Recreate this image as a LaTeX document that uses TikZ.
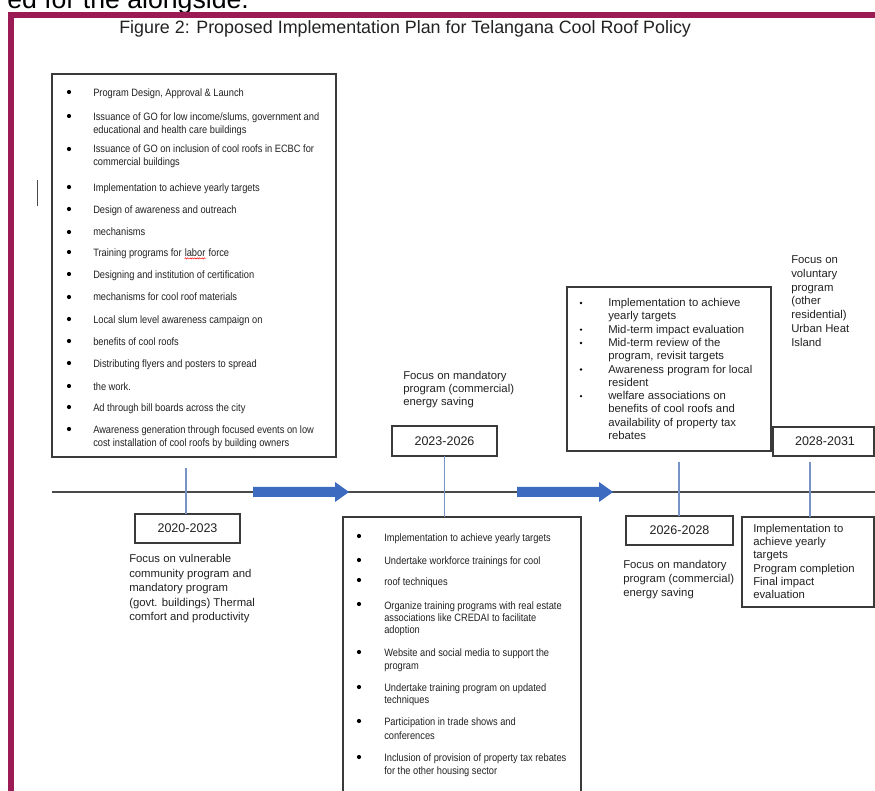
\documentclass[tikz,border=0pt]{standalone}
\usepackage{fontspec}
\setmainfont{Liberation Sans}
\newfontfamily\narrowfont[FakeStretch=0.87]{Liberation Sans}
\usetikzlibrary{fit,calc,decorations.pathmorphing}
\definecolor{framec}{HTML}{9B1B55}
\definecolor{boxc}{HTML}{3A3A3A}
\definecolor{txtc}{HTML}{222222}
\definecolor{conn}{HTML}{7893C6}
\definecolor{arrowc}{HTML}{3D6BBF}
\definecolor{linec}{HTML}{4A4A4A}
\begin{document}
\begin{tikzpicture}[x=0.75pt,y=-0.75pt,
  box/.style={draw=boxc, line width=0.9pt, inner sep=0pt, outer sep=0pt},
  smalltxt/.style={font=\narrowfont\fontsize{8}{9}\selectfont, text=txtc, anchor=mid west, inner sep=0pt},
  midtxt/.style={font=\fontsize{8.5}{10}\selectfont, text=txtc, anchor=mid west, inner sep=0pt},
  yeartxt/.style={font=\fontsize{9.4}{11}\selectfont, text=txtc, inner sep=0pt, anchor=center},
  conline/.style={draw=conn, line width=0.8pt},
  bigarrow/.style={fill=arrowc, draw=none},
  bul/.style={fill=black}
]
\useasboundingbox (0,0) rectangle (875,791);
\clip (0,0) rectangle (875,791);
\fill[white] (0,0) rectangle (875,791);

% cut text at the very top
\node[anchor=base west, inner sep=0pt, font=\fontsize{20}{22}\selectfont] (cut) at (7,9) {ed for the alongside.};
% frame
\draw[framec, line width=4.5pt] (11,15) rectangle (900,820);
% title
\node[anchor=base west, inner sep=0pt, font=\fontsize{13.4}{15}\selectfont, text=txtc] (title) at (119,34) {Figure 2: Proposed Implementation Plan for Telangana Cool Roof Policy};

% small cursor mark
\draw[linec, line width=0.6pt] (37,180) -- (37,206);

% ---------- boxes ----------
\node[box, fit={(52,74) (336,457)}] (lbox) {};
\node[box, fit={(567,287) (771,451)}] (tbox) {};
\node[box, fit={(343,517) (581,830)}] (mbox) {};
\node[box, fit={(742,517) (874,607)}] (rbox) {};

\node[box, fit={(135,514) (240,543)}] (y1) {};
\node[box, fit={(392,426) (497,456)}] (y2) {};
\node[box, fit={(626,516) (733,545)}] (y3) {};
\node[box, fit={(773,427) (874,456)}] (y4) {};
\node[yeartxt] (y1t) at (187.5,528.5) {2020-2023};
\node[yeartxt] (y2t) at (444.5,441) {2023-2026};
\node[yeartxt] (y3t) at (679.5,530.5) {2026-2028};
\node[yeartxt] (y4t) at (825,441.5) {2028-2031};

% ---------- timeline ----------
\coordinate (tlA) at (52,492);
\coordinate (tlB) at (875,492);
\draw[linec, line width=0.8pt] (tlA) -- (tlB);

\fill[bigarrow] (253,487) -- (335,487) -- (335,482) -- (349,492) -- (335,502) -- (335,497) -- (253,497) -- cycle;
\fill[bigarrow] (517,487) -- (599,487) -- (599,482) -- (613,492) -- (599,502) -- (599,497) -- (517,497) -- cycle;

% ---------- connectors ----------
\coordinate (c1) at (186,468);
\draw[conline] (c1) -- (c1 |- y1.north);
\draw[conline] (y2.south) -- (y2.south |- mbox.north);
\coordinate (c3) at (679,462);
\draw[conline] (c3) -- (c3 |- y3.north);
\coordinate (c4) at (810,462);
\draw[conline] (c4) -- (c4 |- rbox.north);

% ---------- left box ----------
\foreach \yy/\s [count=\i] in {
  93/{Program Design, Approval \& Launch},
  117/{Issuance of GO for low income/slums, government and},
  130/{educational and health care buildings},
  149/{Issuance of GO on inclusion of cool roofs in ECBC for},
  162/{commercial buildings},
  188/{Implementation to achieve yearly targets},
  210/{Design of awareness and outreach},
  232/{mechanisms},
  275/{Designing and institution of certification},
  297/{mechanisms for cool roof materials},
  320/{Local slum level awareness campaign on},
  342/{benefits of cool roofs},
  364/{Distributing flyers and posters to spread},
  387/{the work.},
  408/{Ad through bill boards across the city},
  430/{Awareness generation through focused events on low},
  443/{cost installation of cool roofs by building owners}}
  \node[smalltxt] (lt\i) at (93,\yy) {\s};
\node[smalltxt] (lta) at (93,253) {Training programs for};
\node[smalltxt, anchor=base west, xshift=1.95pt] (ltlabor) at (lta.base east) {labor};
\node[smalltxt, anchor=base west] (ltb) at (ltlabor.base east) {\ force};
\draw[red, line width=0.35pt, decorate, decoration={snake, amplitude=0.45pt, segment length=1.8pt}]
  ([yshift=-1.4pt]ltlabor.base west) -- ([yshift=-1.4pt]ltlabor.base east);
\foreach \yy in {92,116,149,187,209,232,252,274,297,319,341,363,386,407,429}
  \fill[bul] (69,\yy) circle (2.1);

% ---------- middle bottom box ----------
\foreach \yy/\s [count=\i] in {
  538/{Implementation to achieve yearly targets},
  561/{Undertake workforce trainings for cool},
  582/{roof techniques},
  606/{Organize training programs with real estate},
  618/{associations like CREDAI to facilitate},
  630/{adoption},
  653/{Website and social media to support the},
  666/{program},
  688/{Undertake training program on updated},
  700/{techniques},
  722/{Participation in trade shows and},
  736/{conferences},
  758/{Inclusion of provision of property tax rebates},
  771/{for the other housing sector}}
  \node[smalltxt] (mt\i) at (384,\yy) {\s};
\foreach \yy in {536,560,580,604,652,687,721,757}
  \fill[bul] (359,\yy) circle (2.1);

% ---------- top right box ----------
\foreach \s [count=\i] in {
  {Implementation to achieve}, {yearly targets}, {Mid-term impact evaluation},
  {Mid-term review of the}, {program, revisit targets}, {Awareness program for local},
  {resident}, {welfare associations on}, {benefits of cool roofs and},
  {availability of property tax}, {rebates}}
  \node[midtxt] (tt\i) at (608,{303+13.3*(\i-1)}) {\s};
\foreach \yy in {303,329.6,343,369.5,396.1}
  \fill[bul] (581,\yy) circle (1.3);

% ---------- bottom right box ----------
\foreach \s [count=\i] in {{Implementation to}, {achieve yearly}, {targets}, {Program completion}, {Final impact}, {evaluation}}
  \node[midtxt] (rt\i) at (753,{529+13.2*(\i-1)}) {\s};

% ---------- focus texts ----------
\foreach \s [count=\i] in {{Focus on vulnerable}, {community program and}, {mandatory program}, {(govt. buildings) Thermal}, {comfort and productivity}}
  \node[midtxt] (fa\i) at (129,{559+14.5*(\i-1)}) {\s};
\foreach \s [count=\i] in {{Focus on mandatory}, {program (commercial)}, {energy saving}}
  \node[midtxt] (fb\i) at (403,{376+12.8*(\i-1)}) {\s};
\foreach \s [count=\i] in {{Focus on mandatory}, {program (commercial)}, {energy saving}}
  \node[midtxt] (fc\i) at (623,{565+14*(\i-1)}) {\s};
\foreach \s [count=\i] in {{Focus on}, {voluntary}, {program}, {(other}, {residential)}, {Urban Heat}, {Island}}
  \node[midtxt] (fd\i) at (791,{260+13.8*(\i-1)}) {\s};
\end{tikzpicture}
\end{document}
